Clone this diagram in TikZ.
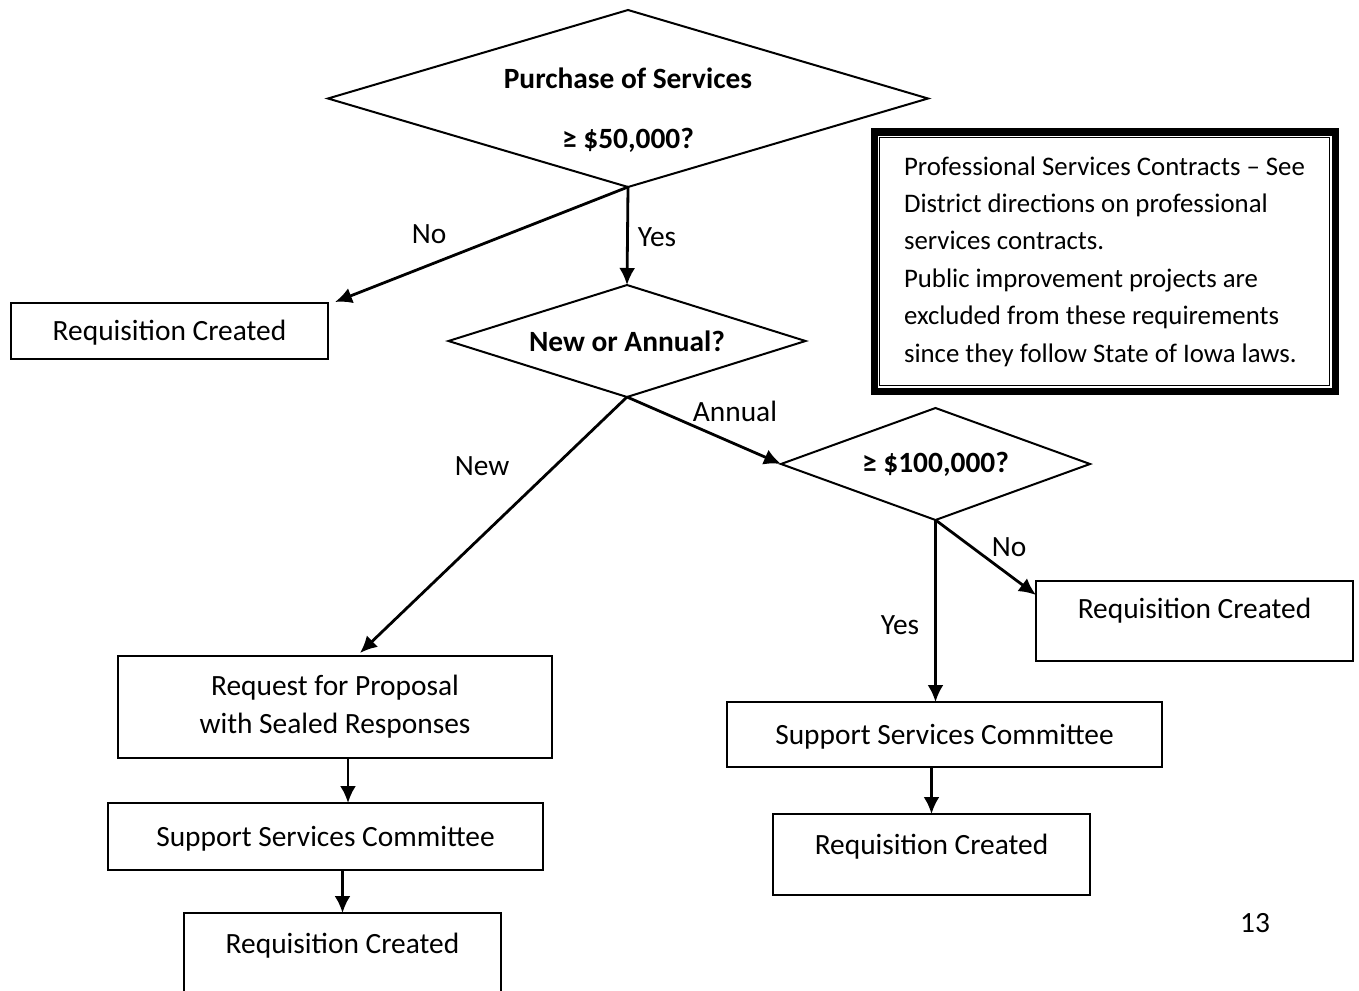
\documentclass[tikz,border=0pt]{standalone}
\usepackage{fontspec}
\setmainfont{Carlito}
\usetikzlibrary{shapes.geometric, arrows.meta, calc}

\tikzset{
  dec/.style={diamond, draw, line width=1pt, inner sep=0pt, outer sep=0pt,
    aspect=3, align=center, font=\fontsize{14.7}{19}\selectfont\bfseries},
  stepbox/.style={rectangle, draw, line width=1pt, inner sep=0pt, outer sep=0pt,
    text height=9.5pt, text depth=#1},
  stepbox/.default=0pt,
  plainbox/.style={rectangle, draw, line width=1pt, inner sep=0pt, outer sep=0pt,
    align=center},
  flow/.style={-{Latex[length=8.5pt,width=8pt]}, line width=1.4pt},
  lbl/.style={inner sep=0pt}
}

\begin{document}
\begin{tikzpicture}[x=0.5pt, y=-0.5pt, font=\fontsize{14.7}{19}\selectfont]
  \useasboundingbox (0,0) rectangle (1359,990);
  % entscheidungen
  \node[dec, minimum width=300pt, minimum height=88.5pt,
    label={[font=\fontsize{14.7}{30}\selectfont\bfseries, align=center,
      yshift=-6pt]center:{Purchase of Services\\≥ \$50,000?}}]
    (purchase) at (628,98.5) {};
  \node[dec, minimum width=178.5pt, minimum height=56pt]
    (newann) at (627,341) {New or Annual?};
  \node[dec, minimum width=154.5pt, minimum height=56pt]
    (limit) at (935.5,464) {≥ \$100,000?};
  % hinweis mit doppeltem rahmen
  \node[draw, line width=3.5pt, minimum width=230.5pt, minimum height=129.5pt,
    inner sep=0pt, align=left, font=\fontsize{13.4}{18.7}\selectfont]
    (note) at (1104.5,261.5) {Professional Services Contracts – See\\
      District directions on professional\\
      services contracts.\\
      Public improvement projects are\\
      excluded from these requirements\\
      since they follow State of Iowa laws.};
  \draw[line width=0.9pt] ($(note.north west)+(9,9)$) rectangle ($(note.south east)+(-9,-9)$);
  % kaesten
  \node[stepbox, minimum width=158.5pt, minimum height=28pt]
    (reqno) at (169.5,331) {Requisition Created};
  \node[plainbox, minimum width=217pt, minimum height=51pt]
    (rfp) at (335,707) {Request for Proposal\\with Sealed Responses};
  \node[stepbox, minimum width=217.5pt, minimum height=33.5pt]
    (sscleft) at (325.5,836.5) {Support Services Committee};
  \node[stepbox=10pt, minimum width=158.5pt, minimum height=41pt]
    (reqleft) at (342.5,954) {Requisition Created};
  \node[stepbox, minimum width=217.5pt, minimum height=32.5pt]
    (sscright) at (944.5,734.5) {Support Services Committee};
  \node[stepbox=9.5pt, minimum width=158.5pt, minimum height=40.5pt]
    (reqright) at (931.5,854.5) {Requisition Created};
  \node[stepbox=12pt, minimum width=158.5pt, minimum height=40pt]
    (reqannual) at (1194.5,621) {Requisition Created};
  % pfeile
  \coordinate (rfpout) at ($(rfp.south)+(13,0)$);
  \draw[flow] (purchase.south) -- ($(reqno.north east)+(7,-1)$);
  \draw[flow] (purchase.south) -- (newann.north);
  \draw[flow] (newann.south) -- ($(rfp.north)+(25,-3)$);
  \draw[flow] (newann.south) -- (limit.west);
  \draw[flow] (limit.south) -- ($(reqannual.north west)+(0,14)$);
  \draw[flow] (limit.south) -- (limit.south |- sscright.north);
  \draw[flow] (reqright.north |- sscright.south) -- (reqright.north);
  \draw[flow] (rfpout) -- (rfpout |- sscleft.north);
  \draw[flow] (reqleft.north |- sscleft.south) -- (reqleft.north);
  % beschriftungen
  \node[lbl] (nofirst) at (429,234) {No};
  \node[lbl] (yesfirst) at (657,237) {Yes};
  \node[lbl] (newlbl) at (482,466) {New};
  \node[lbl] (annuallbl) at (735,411) {Annual};
  \node[lbl] (nosecond) at (1009,547) {No};
  \node[lbl] (yessecond) at (900,625) {Yes};
  \node[lbl] (pagenum) at (1255,923) {13};
\end{tikzpicture}
\end{document}
